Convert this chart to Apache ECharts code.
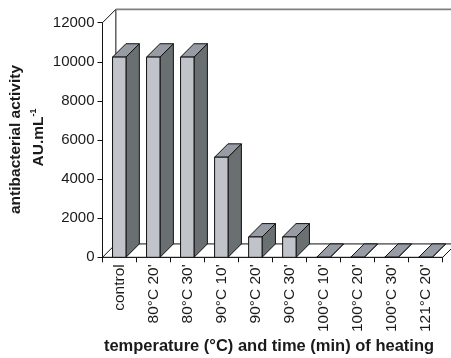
<!DOCTYPE html>
<html><head><meta charset="utf-8">
<script src="https://cdn.jsdelivr.net/npm/echarts/dist/echarts.min.js"></script>
<style>html,body{margin:0;padding:0;background:#fff}#c{width:451px;height:358px}</style>
</head><body><div id="c"></div>
<script>
// ---- data ----
const categories = ['control', "80°C 20'", "80°C 30'", "90°C 10'", "90°C 20'", "90°C 30'", "100°C 10'", "100°C 20'", "100°C 30'", "121°C 20'"];
const activity = [10240, 10240, 10240, 5120, 1040, 1040, 0, 0, 0, 0];
const yMin = 0, yMax = 12000, yStep = 2000;
const xTitle = 'temperature (°C) and time (min) of heating';
const yTitleLine1 = 'antibacterial activity';
const yTitleLine2 = 'AU.mL';
const yTitleSup = '-1';

// ---- style ----
const FONT = '"Liberation Sans", Arial, sans-serif';
const FRONT = '#c1c3cb', SIDE = '#6a7072', TOP = '#979ca4', EDGE = '#111';

const chart = echarts.init(document.getElementById('c'), null, {renderer: 'canvas'});

function depth(bw) { return bw * 0.393; }

function renderFrame(params, api) {
  const cs = params.coordSys;
  const L = cs.x, T = cs.y, R = cs.x + cs.width, B = cs.y + cs.height;
  const D = depth(cs.width / categories.length);
  return {type: 'group', children: [
    {type: 'polygon', shape: {points: [[L, B], [R, B], [R + D, B - D], [L + D, B - D]]},
     style: {fill: '#fff', stroke: EDGE, lineWidth: 1}},
    {type: 'line', shape: {x1: L + D, y1: T - D, x2: L + D, y2: B - D}, style: {stroke: EDGE, lineWidth: 1}},
    {type: 'line', shape: {x1: L, y1: T, x2: L + D, y2: T - D}, style: {stroke: EDGE, lineWidth: 1}},
    {type: 'line', shape: {x1: L + D, y1: T - D, x2: R + D, y2: T - D}, style: {stroke: '#808080', lineWidth: 1.6}},
    {type: 'line', shape: {x1: R + D, y1: T - D, x2: R + D, y2: B - D}, style: {stroke: EDGE, lineWidth: 1}}
  ]};
}

function renderBar(params, api) {
  const i = api.value(0), v = api.value(1);
  const p0 = api.coord([i, 0]), p1 = api.coord([i, v]);
  const bw = api.size([1, 0])[0];
  const D = depth(bw);
  const x0 = p0[0] - bw * 0.205, x1 = x0 + bw * 0.395;
  const yb = p0[1], yt = p1[1];
  const st = (fill) => ({fill: fill, stroke: EDGE, lineWidth: 1, lineJoin: 'round'});
  return {type: 'group', children: [
    {type: 'polygon', shape: {points: [[x1, yt], [x1 + D, yt - D], [x1 + D, yb - D], [x1, yb]]}, style: st(SIDE)},
    {type: 'polygon', shape: {points: [[x0, yt], [x0 + D, yt - D], [x1 + D, yt - D], [x1, yt]]}, style: st(TOP)},
    {type: 'polygon', shape: {points: [[x0, yt], [x1, yt], [x1, yb], [x0, yb]]}, style: st(FRONT)}
  ]};
}

chart.setOption({
  animation: false,
  backgroundColor: '#fff',
  grid: {left: 102.5, right: 8.3, top: 22.7, bottom: 100.7, containLabel: false},
  xAxis: {
    type: 'category', data: categories, boundaryGap: true,
    axisLine: {lineStyle: {color: EDGE, width: 1}},
    axisTick: {show: true, length: 5, lineStyle: {color: EDGE}},
    axisLabel: {rotate: 90, margin: 7, fontFamily: FONT, fontSize: 15.5, color: '#1a1a1a', interval: 0},
    splitLine: {show: false}
  },
  yAxis: {
    type: 'value', min: yMin, max: yMax, interval: yStep,
    axisLine: {show: true, lineStyle: {color: EDGE, width: 1}},
    axisTick: {show: true, length: 5, lineStyle: {color: EDGE}},
    axisLabel: {margin: 8, fontFamily: FONT, fontSize: 15, color: '#1a1a1a', formatter: (v) => String(v)},
    splitLine: {show: false}
  },
  graphic: [
    {type: 'text', x: 16, y: 139.5, rotation: Math.PI / 2,
     style: {text: yTitleLine1, fontFamily: FONT, fontWeight: 'bold', fontSize: 15.5, fill: '#1a1a1a', align: 'center', verticalAlign: 'middle'}},
    {type: 'text', x: 38.5, y: 137.5, rotation: Math.PI / 2,
     style: {text: '{b|' + yTitleLine2 + '}{s|' + yTitleSup + '}', align: 'center', verticalAlign: 'middle',
       rich: {
         b: {fontFamily: FONT, fontWeight: 'bold', fontSize: 15.5, fill: '#1a1a1a', lineHeight: 18},
         s: {fontFamily: FONT, fontWeight: 'bold', fontSize: 9, fill: '#1a1a1a', verticalAlign: 'top', lineHeight: 18}
       }}},
    {type: 'text', x: 269, y: 346,
     style: {text: xTitle, fontFamily: FONT, fontWeight: 'bold', fontSize: 16.5, fill: '#1a1a1a', align: 'center', verticalAlign: 'middle'}}
  ],
  series: [
    {type: 'custom', z: 1, clip: false, silent: true, renderItem: renderFrame, data: [[0, 0]], encode: {x: 0, y: 1}},
    {type: 'custom', z: 2, clip: false, renderItem: renderBar,
     data: categories.map((c, i) => [i, activity[i]]), encode: {x: 0, y: 1}}
  ]
});
</script></body></html>
